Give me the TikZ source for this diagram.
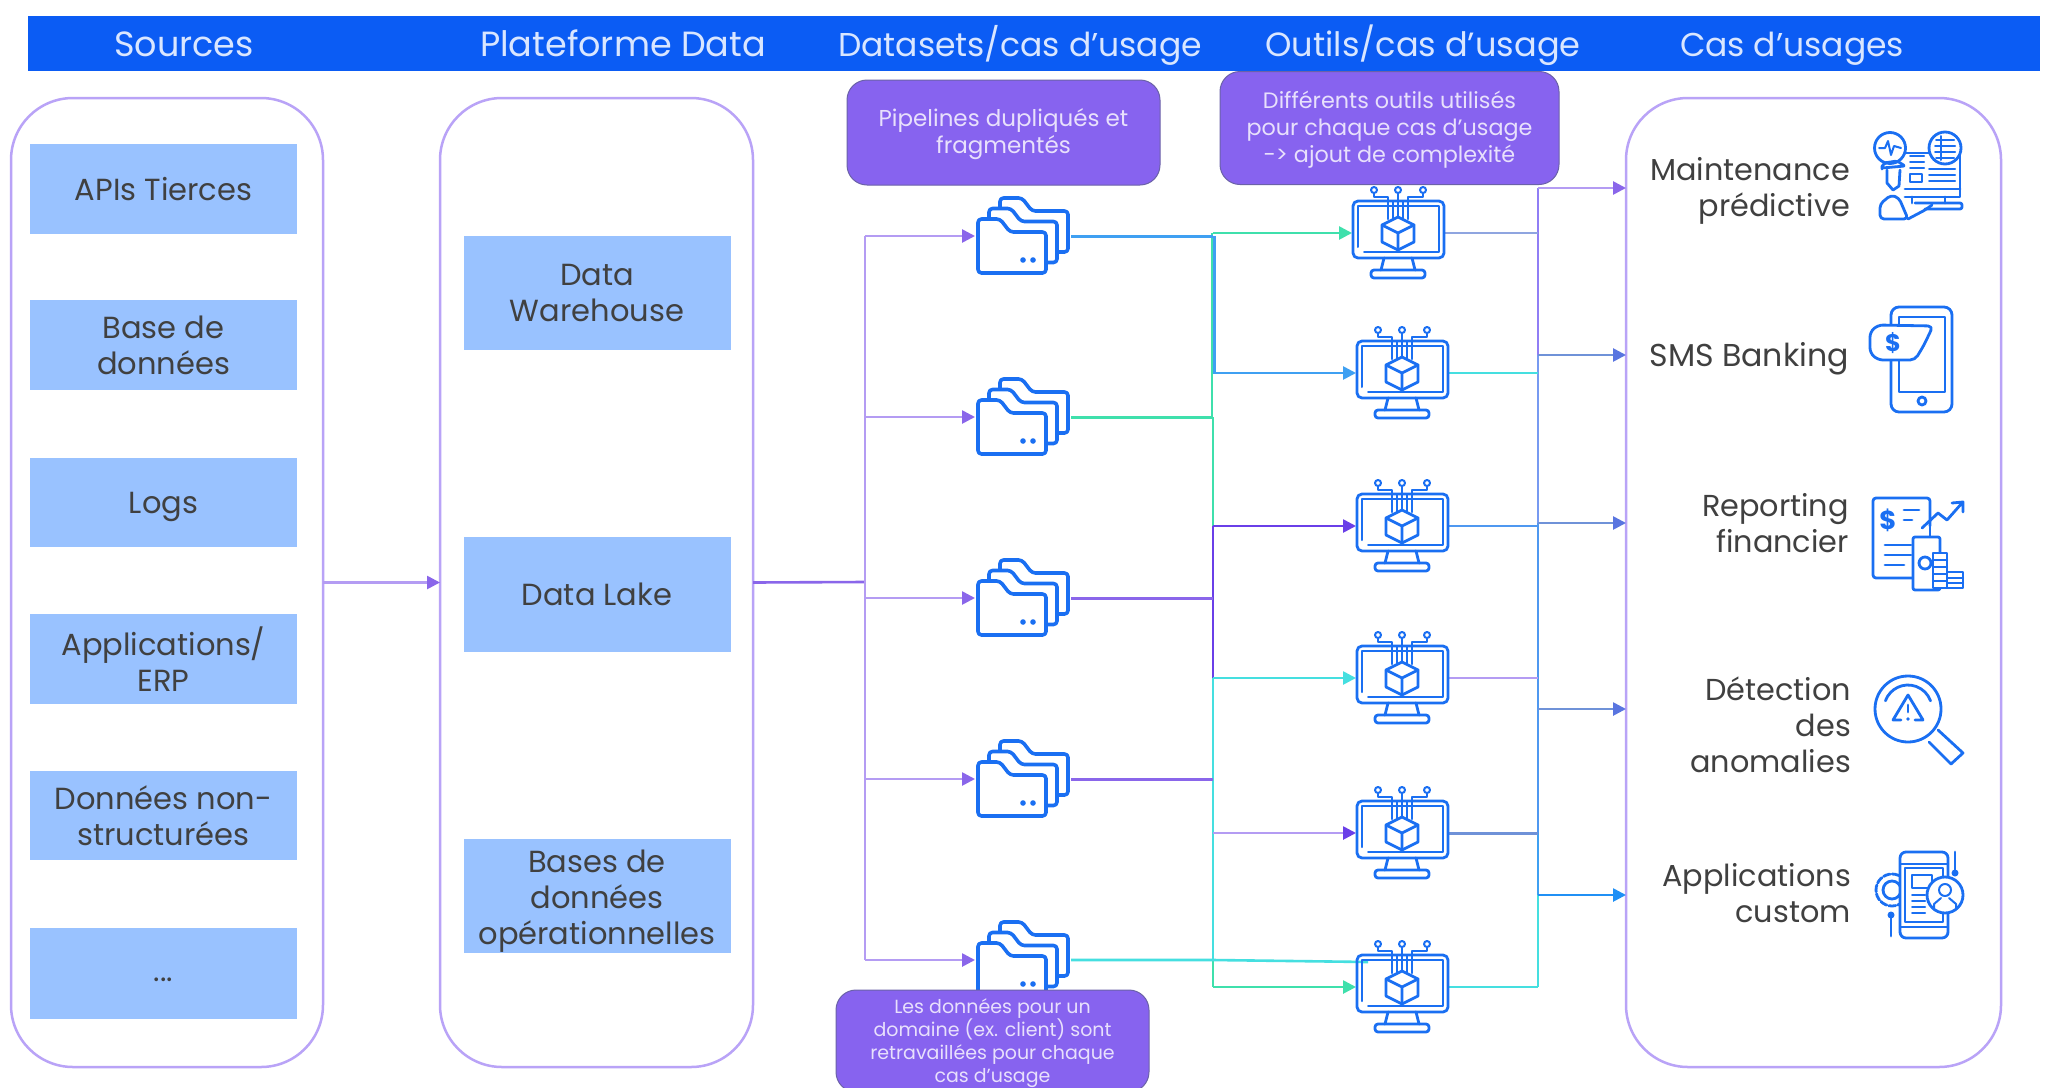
\documentclass[tikz,border=0pt]{standalone}
\usepackage{fontspec}
\setmainfont{Poppins}
\usetikzlibrary{arrows.meta,calc}
\definecolor{hdr}{HTML}{0B5CF4}
\definecolor{hdrtxt}{HTML}{D9E6FF}
\definecolor{boxb}{HTML}{99C2FF}
\definecolor{frame}{HTML}{B9A3F7}
\definecolor{call}{HTML}{8763EF}
\definecolor{callb}{HTML}{6B62A8}
\definecolor{calltxt}{HTML}{E8E0FC}
\definecolor{txt}{HTML}{404040}
\definecolor{ico}{HTML}{1A6FF2}
\definecolor{lpur}{HTML}{B49CF3}
\definecolor{dpur}{HTML}{8A66EA}
\definecolor{vpur}{HTML}{6A3FE8}
\definecolor{blu}{HTML}{3FA0F2}
\definecolor{mint}{HTML}{3FE0AC}
\definecolor{cya}{HTML}{45DFE0}
\definecolor{gbl}{HTML}{8FA5E0}
\definecolor{sbl}{HTML}{6F92D8}
\definecolor{bbl}{HTML}{4F98F0}
\definecolor{bright}{HTML}{2090F5}
\newcommand{\dropby}[2]{\raisebox{-#1}[\height][\depth]{#2}}
\tikzset{
  container/.style={draw=frame,line width=2.5pt,rounded corners=62pt,minimum width=#1,minimum height=969pt,inner sep=0pt,outer sep=0pt},
  srcbox/.style={fill=boxb,text=txt,minimum width=267pt,minimum height=#1,inner sep=0pt,align=center,font=\fontsize{30.5}{36}\selectfont},
  callout/.style={fill=call,draw=callb,line width=1pt,rounded corners=20pt,text=calltxt,align=center,inner sep=0pt},
  headtxt/.style={text=hdrtxt,text height=25pt,text depth=8pt,inner sep=0pt,font=\fontsize{#1}{38}\selectfont},
  castxt/.style={text=txt,anchor=east,align=right,inner sep=0pt,font=\fontsize{30.3}{36}\selectfont},
  iconode/.style={minimum width=#1,minimum height=80pt,inner sep=0pt,outer sep=0pt},
  icoline/.style={draw=ico,line width=2.8pt,line join=round,line cap=round},
  icothin/.style={draw=ico,line width=2pt,line join=round,line cap=round},
  conn/.style={draw=#1,line width=2.6pt},
  tip/.style={-{Triangle[length=13pt,width=13pt,color=#1]}},
}
\newcommand{\folderico}[1]{%
  \begin{scope}[shift={(#1)}]
    \foreach \dx/\dy in {22/-21,11/-10.5,0/0}{
      \path[icoline,fill=white,line width=3.6pt,rounded corners=3.5pt,shift={(\dx,\dy)}]
        (-45,37) -- (-45,-17) -- (-23,-17) -- (-13,-4) -- (23,-4) -- (23,37) -- cycle;
    }
    \fill[ico] (0,24) circle[radius=2.8pt] (10,24) circle[radius=2.8pt];
  \end{scope}}
\newcommand{\monitorico}[1]{%
  \begin{scope}[shift={(#1)}]
    \path[icoline,rounded corners=5pt] (-45,-32) rectangle (46,25);
    \path[icothin] (-40,14) -- (-40,-27) -- (41,-27) -- (41,19) -- (-34,19);
    \path[icoline] (-14,25) -- (-17,37) (14,25) -- (17,37);
    \path[icoline,rounded corners=3pt] (-27,37) rectangle (27,45);
    % pins
    \path[icoline] (-24,-39) -- (-24,-36) -- (-10,-36) -- (-10,-14);
    \path[icoline] (0,-39) -- (0,-16);
    \path[icoline] (25,-39) -- (25,-36) -- (10,-36) -- (10,-14);
    \path[icothin] (-5,-32) -- (-5,-13) (5,-32) -- (5,-13);
    \path[icothin,fill=white] (-24,-43) circle[radius=3pt] (0,-43) circle[radius=3pt] (25,-43) circle[radius=3pt];
    % cube
    \path[icoline,fill=white] (0,-16) -- (16,-8) -- (16,9) -- (0,17) -- (-16,9) -- (-16,-8) -- cycle;
    \path[icoline] (-16,-8) -- (0,0) -- (16,-8) (0,0) -- (0,17);
  \end{scope}}
\begin{document}
\begin{tikzpicture}[x=1pt,y=-1pt]
\path[clip] (0,0) rectangle (2053,1087);
\fill[white] (0,0) rectangle (2053,1087);
% header
\fill[hdr] (28,16) rectangle (2040,71);
\node[headtxt=35] (h1) at (184,48) {Sources};
\node[headtxt=35] (h2) at (623,48) {Plateforme Data};
\node[headtxt=33] (h3) at (1020,48) {Datasets/cas d’usage};
\node[headtxt=33.6] (h4) at (1423,48) {Outils/cas d’usage};
\node[headtxt=33] (h5) at (1792,48) {Cas d’usages};
% containers
\node[container=312pt] (csrc) at (167,582.5) {};
\node[container=313pt] (cplat) at (596.5,582.5) {};
\node[container=375pt] (ccas) at (1813.5,582.5) {};
% source boxes
\node[srcbox=90pt] (s1) at (163.5,189) {APIs Tierces};
\node[srcbox=90pt] (s2) at (163.5,345) {Base de\\données};
\node[srcbox=89pt] (s3) at (163.5,502) {\dropby{5pt}{Logs}};
\node[srcbox=90pt] (s4) at (163.5,659) {Applications/\\ERP};
\node[srcbox=89pt] (s5) at (163.5,815.5) {Données non-\\structurées};
\node[srcbox=91pt] (s6) at (163.5,973.5) {\dropby{6pt}{...}};
% platform boxes
\node[srcbox=114pt] (p1) at (597,293) {Data\\Warehouse};
\node[srcbox=115pt] (p2) at (597,594.5) {Data Lake};
\node[srcbox=114pt] (p3) at (597,896) {\dropby{5pt}{Bases de}\\\dropby{5pt}{données}\\\dropby{5pt}{opérationnelles}};
% icon anchors
\node[iconode=96pt] (f1) at (1023,236) {};
\node[iconode=96pt] (f2) at (1023,417) {};
\node[iconode=96pt] (f3) at (1023,598) {};
\node[iconode=96pt] (f4) at (1023,779) {};
\node[iconode=96pt] (f5) at (1023,960) {};
\node[iconode=92pt] (m1) at (1398,233) {};
\node[iconode=92pt] (m2) at (1402,373) {};
\node[iconode=92pt] (m3) at (1402,526) {};
\node[iconode=92pt] (m4) at (1402,678) {};
\node[iconode=92pt] (m5) at (1402,833) {};
\node[iconode=92pt] (m6) at (1402,987) {};
\coordinate (tl) at (865,582);
\coordinate (jx) at (1213,582);
\coordinate (jy) at (1538,582);
\coordinate (c6) at (1368,962);
\coordinate (o1) at (1538,188);
\coordinate (o2) at (1538,355);
\coordinate (o3) at (1538,523);
\coordinate (o4) at (1538,709);
\coordinate (o5) at (1538,895);
% connectors: left
\draw[conn=lpur,tip=dpur] (csrc.east) -- (cplat.west);
\draw[conn=dpur] (cplat.east) -- (tl);
\draw[conn=lpur] (tl|-f1) -- (tl|-f5);
\foreach \f in {f1,f2,f3,f4,f5}{ \draw[conn=lpur,tip=dpur] (tl|-\f) -- (\f.west); }
% middle verticals
\draw[conn=blu] ($(jx|-f1)+(1.2,0)$) -- ($(jx|-m2)+(1.2,0)$);
\draw[conn=mint] ($(jx|-m1)+(-1.2,0)$) -- ($(jx|-f2)+(-1.2,0)$);
\draw[conn=mint] (jx|-f2) -- (jx|-m3);
\draw[conn=vpur] (jx|-m3) -- (jx|-m4);
\draw[conn=cya] (jx|-m4) -- (jx|-f5);
\draw[conn=mint] (jx|-f5) -- (jx|-m6);
% folder outlets
\draw[conn=blu,line width=3pt] (f1.east) -- (jx|-f1);
\draw[conn=mint,line width=3pt] (f2.east) -- (jx|-f2);
\draw[conn=dpur,line width=3pt] (f3.east) -- (jx|-f3);
\draw[conn=dpur,line width=3pt] (f4.east) -- (jx|-f4);
\draw[conn=cya,line width=2.6pt] (f5.east) -- (jx|-f5) -- (c6);
% monitor inlets
\draw[conn=mint,tip=mint] (jx|-m1) -- (m1.west);
\draw[conn=blu,tip=blu] (jx|-m2) -- (m2.west);
\draw[conn=vpur,tip=vpur] (jx|-m3) -- (m3.west);
\draw[conn=cya,tip=cya] (jx|-m4) -- (m4.west);
\draw[conn=lpur,tip=vpur] (jx|-m5) -- (m5.west);
\draw[conn=mint,tip=mint] (jx|-m6) -- (m6.west);
% right verticals
\draw[conn=dpur!70!blue!70!white] (o1) -- (o2);
\draw[conn=bbl!60!lpur] (o2) -- (o3);
\draw[conn=bbl] (o3) -- (jy|-m5);
\draw[conn=blu] (jy|-m5) -- (o5);
\draw[conn=cya] (o5) -- (jy|-m6);
% monitor outlets
\draw[conn=gbl] (m1.east) -- (jy|-m1);
\draw[conn=cya] (m2.east) -- (jy|-m2);
\draw[conn=bbl] (m3.east) -- (jy|-m3);
\draw[conn=lpur] (m4.east) -- (jy|-m4);
\draw[conn=sbl,line width=3pt] (m5.east) -- (jy|-m5);
\draw[conn=cya] (m6.east) -- (jy|-m6);
% outputs
\draw[conn=lpur,tip=dpur] (o1) -- (o1-|ccas.west);
\draw[conn=sbl,tip=sbl!80!blue] (o2) -- (o2-|ccas.west);
\draw[conn=sbl,tip=sbl!80!blue] (o3) -- (o3-|ccas.west);
\draw[conn=sbl,tip=sbl!80!blue] (o4) -- (o4-|ccas.west);
\draw[conn=bright,tip=bright] (o5) -- (o5-|ccas.west);
% icons
\folderico{f1.center}\folderico{f2.center}\folderico{f3.center}\folderico{f4.center}\folderico{f5.center}
\monitorico{m1.center}\monitorico{m2.center}\monitorico{m3.center}\monitorico{m4.center}\monitorico{m5.center}\monitorico{m6.center}
% callouts
\node[callout,minimum width=313pt,minimum height=105pt,font=\fontsize{23}{27}\selectfont] (a1) at (1003.5,132.5) {\dropby{2pt}{Pipelines dupliqués et}\\\dropby{2pt}{fragmentés}};
\node[callout,minimum width=339pt,minimum height=113pt,font=\fontsize{22.3}{27}\selectfont] (a2) at (1389.5,128) {\dropby{2pt}{Différents outils utilisés}\\\dropby{2pt}{pour chaque cas d’usage}\\\dropby{2pt}{-> ajout de complexité}};
\node[callout,minimum width=313pt,minimum height=102pt,font=\fontsize{19}{23}\selectfont] (a3) at (992.5,1041) {\dropby{2pt}{Les données pour un}\\\dropby{2pt}{domaine (ex. client) sont}\\\dropby{2pt}{retravaillées pour chaque}\\\dropby{2pt}{cas d’usage}};
% use-case texts
\node[castxt] (t1) at (1850,190.5) {Maintenance\\prédictive};
\node[castxt,font=\fontsize{31.6}{36}\selectfont] (t2) at (1849,359) {SMS Banking};
\node[castxt] (t3) at (1849,523) {Reporting\\financier};
\node[castxt] (t4) at (1851,725) {Détection\\des\\anomalies};
\node[castxt] (t5) at (1851,893.5) {Applications\\custom};
% maintenance icon
\path[icoline] (1905,189) -- (1960,189) (1905,197) -- (1960,197) -- (1960,153) -- (1903,153);
\path[icoline] (1912,197) -- (1912,203) (1945,197) -- (1945,203);
\path[icoline,rounded corners=2pt] (1915,203) -- (1962,203) -- (1962,209) -- (1925,209);
\path[icothin] (1910,156) -- (1924,156) (1910,162) -- (1924,162) (1910,168) -- (1924,168);
\path[icothin] (1910,174) rectangle (1922,182);
\path[icothin] (1929,169) -- (1955,169) (1929,175) -- (1955,175) (1929,181) -- (1955,181);
\path[icoline,fill=white] (1890,148) circle[radius=15.5pt];
\path[icothin] (1879,148) -- (1885,148) -- (1888,141) -- (1891,155) -- (1894,146) -- (1901,148);
\path[icoline,fill=white] (1945,148) circle[radius=16pt];
\path[icothin] (1936,140) -- (1954,140) (1935,146) -- (1955,146) (1935,152) -- (1955,152) (1936,158) -- (1954,158) (1941,136) -- (1941,160);
\path[icoline,rounded corners=2pt] (1882,167) -- (1884,163) -- (1897,161) -- (1905,166) -- (1882,168) -- cycle;
\path[icoline] (1887,170) -- (1887,183) -- (1893,190) -- (1899,186) -- (1900,170);
\path[icoline,rounded corners=4pt] (1880,219) -- (1880,204) -- (1891,195) -- (1899,198) -- (1908,219) -- cycle;
\path[icoline,rounded corners=2pt] (1908,219) -- (1925,210) -- (1932,205);
% SMS icon
\path[icoline,rounded corners=8pt] (1891,325) -- (1891,307) -- (1952,307) -- (1952,412) -- (1891,412) -- (1891,360);
\path[icoline] (1899,325) -- (1899,317) -- (1945,317) -- (1945,392) -- (1899,392) -- (1899,360);
\path[icoline,fill=white] (1922,401) circle[radius=4pt];
\path[icoline,fill=white,rounded corners=5pt] (1933,326) -- (1878,325) -- (1870,332) -- (1870,353) -- (1878,360) -- (1915,360) -- (1924,345) -- cycle;
\node[text=ico,inner sep=0pt,font=\fontsize{24}{24}\selectfont\bfseries] (dol) at (1893,343) {\$};
% reporting icon
\path[icoline,rounded corners=3pt] (1912,578) -- (1873,578) -- (1873,498) -- (1930,498) -- (1930,526);
\node[text=ico,inner sep=0pt,font=\fontsize{26}{26}\selectfont\bfseries] (dol2) at (1888,520) {\$};
\path[icoline] (1904,510) -- (1919,510) (1904,520) -- (1912,520);
\path[icoline] (1885,545) -- (1911,545) (1885,555) -- (1911,555) (1885,565) -- (1904,565);
\path[icoline] (1922,528) -- (1938,513) -- (1947,520) -- (1962,503) (1952,503) -- (1963,502) -- (1963,512);
\path[icoline] (1930,527) -- (1930,537);
\path[icoline,fill=white,rounded corners=2pt] (1913,537) rectangle (1940,590);
\path[icoline] (1925,563) circle[radius=6pt];
\path[icoline,fill=white] (1933,553) rectangle (1947,588);
\path[icothin] (1933,560) -- (1947,560) (1933,567) -- (1947,567) (1933,574) -- (1947,574) (1933,581) -- (1947,581);
\path[icoline,fill=white] (1947,572) rectangle (1963,588);
\path[icothin] (1947,578) -- (1963,578) (1947,583) -- (1963,583);
% detection icon
\path[icoline] (1908,709) circle[radius=33pt];
\path[icoline] (1885.4,700.8) arc[start angle=160,end angle=20,radius=24pt];
\path[icoline] (1901,720) -- (1893,720) -- (1908,695) -- (1923,720) -- (1915,720);
\path[icoline] (1908,705) -- (1908,712);
\fill[ico] (1908,719) circle[radius=1.8pt];
\path[icoline] (1938,730) -- (1963,753) -- (1951,764) -- (1929,742);
% app icon
\path[icoline] (1892,890) circle[radius=9pt];
\path[icoline,dash pattern=on 7pt off 2pt] (1892,890) circle[radius=16pt];
\path[icoline,fill=white,rounded corners=6pt] (1900,852) rectangle (1948,938);
\path[icothin] (1900,864) -- (1948,864) (1900,927) -- (1948,927);
\path[icothin] (1905,922) rectangle (1943,868);
\path[icothin] (1912,875) rectangle (1932,888);
\path[icothin] (1912,895) -- (1925,895) (1912,901) -- (1925,901) (1912,907) -- (1925,907) (1912,913) -- (1925,913);
\path[icoline,fill=white] (1945,895) circle[radius=18pt];
\path[icothin] (1945,890) circle[radius=6pt];
\path[icothin] (1934,908) -- (1934,904) -- (1941,898) (1949,898) -- (1956,904) -- (1956,908);
\path[icoline] (1955,852) -- (1955,870);
\fill[ico] (1955,873) circle[radius=3.5pt];
\fill[ico] (1891,915) circle[radius=3.5pt];
\path[icoline] (1891,918) -- (1891,936);
\end{tikzpicture}
\end{document}
